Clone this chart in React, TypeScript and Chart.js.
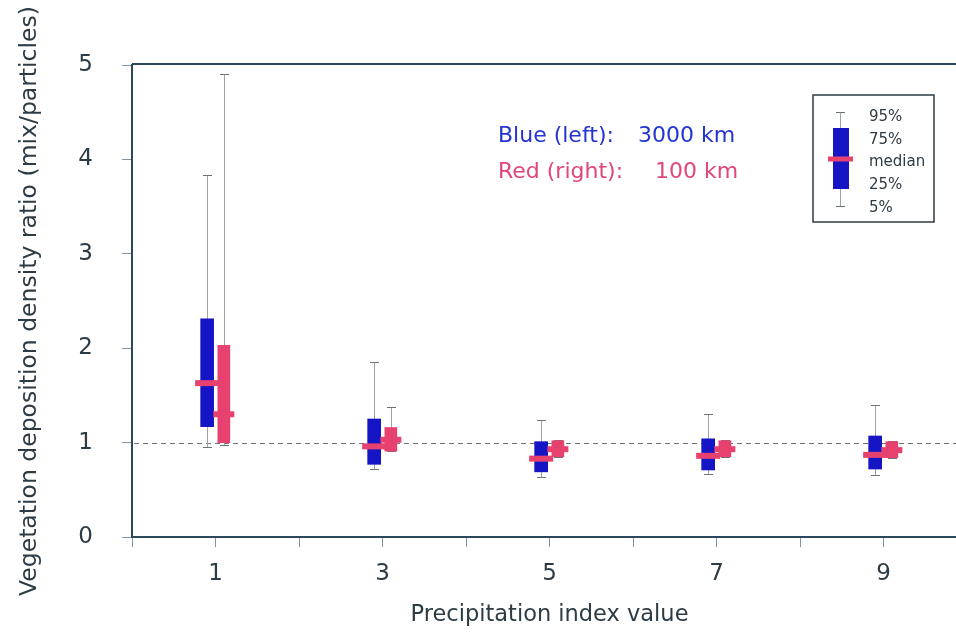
import React, { useEffect, useRef } from "react";
import { Chart, registerables } from "chart.js";

Chart.register(...registerables);

// ---- data ----
const categories = [1, 3, 5, 7, 9];

const blueP5 = [0.95, 0.72, 0.64, 0.67, 0.66];
const blueP25 = [1.17, 0.77, 0.69, 0.71, 0.72];
const blueMedian = [1.63, 0.96, 0.83, 0.86, 0.87];
const blueP75 = [2.31, 1.25, 1.01, 1.04, 1.07];
const blueP95 = [3.83, 1.85, 1.24, 1.3, 1.4];

const redP5 = [0.97, 0.91, 0.85, 0.85, 0.84];
const redP25 = [1.0, 0.91, 0.85, 0.85, 0.84];
const redMedian = [1.3, 1.03, 0.93, 0.93, 0.92];
const redP75 = [2.03, 1.16, 1.02, 1.02, 1.01];
const redP95 = [4.9, 1.38, 1.03, 1.03, 1.02];

const xTicks = [0, 1, 2, 3, 4, 5, 6, 7, 8, 9];
const xTickLabels = ["", "1", "", "3", "", "5", "", "7", "", "9"];
const yTicks = [0, 1, 2, 3, 4, 5];
const referenceValue = 1;

const legendLabels = ["95%", "75%", "median", "25%", "5%"];
const noteBlue = ["Blue (left):", "3000 km"];
const noteRed = ["Red (right):", "100 km"];

const yTitle = "Vegetation deposition density ratio (mix/particles)";
const xTitle = "Precipitation index value";

// ---- styles ----
const BLUE = "#1515c6";
const RED = "#e6416f";
const BLUE_TEXT = "#2334d2";
const RED_TEXT = "#e2457c";
const AXIS = "#2b475a";
const TEXT = "#2d3b45";
const WHISKER = "#9aa5a6";
const CAP = "#6c7475";
const FONT = "DejaVu Sans";

const series = [
  { p5: blueP5, p25: blueP25, med: blueMedian, p75: blueP75, p95: blueP95, offset: -0.1, color: BLUE, box: 13, medW: 24 },
  { p5: redP5, p25: redP25, med: redMedian, p75: redP75, p95: redP95, offset: 0.1, color: RED, box: 12, medW: 21 },
];

const extrasPlugin = {
  id: "boxExtras",
  beforeDatasetsDraw(chart: any) {
    const { ctx, chartArea, scales } = chart;
    const x = scales.x;
    const y = scales.y;
    ctx.save();
    // dashed reference line
    const yr = Math.round(y.getPixelForValue(referenceValue)) + 0.5;
    ctx.strokeStyle = "#707676";
    ctx.lineWidth = 1;
    ctx.setLineDash([5, 4]);
    ctx.beginPath();
    ctx.moveTo(chartArea.left + 2, yr);
    ctx.lineTo(chartArea.right, yr);
    ctx.stroke();
    ctx.setLineDash([]);
    // whiskers
    series.forEach((s) => {
      categories.forEach((c, i) => {
        const px = Math.round(x.getPixelForValue(c + s.offset)) + 0.5;
        const top = Math.round(y.getPixelForValue(s.p95[i])) + 0.5;
        const bot = Math.round(y.getPixelForValue(s.p5[i])) + 0.5;
        ctx.strokeStyle = WHISKER;
        ctx.lineWidth = 1;
        ctx.beginPath();
        ctx.moveTo(px, top);
        ctx.lineTo(px, bot);
        ctx.stroke();
        ctx.strokeStyle = CAP;
        ctx.beginPath();
        ctx.moveTo(px - 4.5, top);
        ctx.lineTo(px + 4.5, top);
        ctx.moveTo(px - 4.5, bot);
        ctx.lineTo(px + 4.5, bot);
        ctx.stroke();
      });
    });
    ctx.restore();
  },
  afterDatasetsDraw(chart: any) {
    const { ctx, scales } = chart;
    const x = scales.x;
    const y = scales.y;
    ctx.save();
    ctx.fillStyle = RED;
    series.forEach((s) => {
      categories.forEach((c, i) => {
        const px = x.getPixelForValue(c + s.offset);
        const py = y.getPixelForValue(s.med[i]);
        ctx.fillRect(px - s.medW / 2, py - 3, s.medW, 6);
      });
    });
    ctx.restore();
  },
  afterDraw(chart: any) {
    const { ctx, chartArea } = chart;
    ctx.save();
    // top frame line
    ctx.strokeStyle = AXIS;
    ctx.lineWidth = 2;
    ctx.beginPath();
    ctx.moveTo(chartArea.left, chartArea.top - 1);
    ctx.lineTo(chartArea.right, chartArea.top - 1);
    ctx.stroke();

    // annotations
    ctx.font = `22px "${FONT}"`;
    ctx.textBaseline = "alphabetic";
    ctx.textAlign = "left";
    ctx.fillStyle = BLUE_TEXT;
    ctx.fillText(noteBlue[0], 498, 142);
    ctx.fillText(noteBlue[1], 638, 142);
    ctx.fillStyle = RED_TEXT;
    ctx.fillText(noteRed[0], 498, 178);
    ctx.fillText(noteRed[1], 655, 178);

    // legend box
    ctx.strokeStyle = "#2e3d44";
    ctx.lineWidth = 1.5;
    ctx.strokeRect(813, 95, 121, 127);
    ctx.strokeStyle = WHISKER;
    ctx.lineWidth = 1;
    ctx.beginPath();
    ctx.moveTo(840.5, 112.5);
    ctx.lineTo(840.5, 206.5);
    ctx.stroke();
    ctx.strokeStyle = CAP;
    ctx.beginPath();
    ctx.moveTo(836, 112.5);
    ctx.lineTo(845, 112.5);
    ctx.moveTo(836, 206.5);
    ctx.lineTo(845, 206.5);
    ctx.stroke();
    ctx.fillStyle = BLUE;
    ctx.fillRect(833, 128, 16, 61);
    ctx.fillStyle = RED;
    ctx.fillRect(828, 156.5, 25, 5);
    ctx.fillStyle = TEXT;
    ctx.font = `15px "${FONT}"`;
    ctx.textBaseline = "middle";
    const ys = [117, 140.5, 162, 185.5, 208];
    legendLabels.forEach((t, i) => ctx.fillText(t, 869, ys[i]));
    ctx.restore();
  },
};

export default function App() {
  const ref = useRef<HTMLCanvasElement | null>(null);

  useEffect(() => {
    if (!ref.current) return;
    const datasets = series.map((s, k) => ({
      label: k === 0 ? "3000 km" : "100 km",
      data: categories.map((c, i) => ({ x: c + s.offset, y: [s.p25[i], s.p75[i]] })),
      backgroundColor: s.color,
      borderWidth: 0,
      barThickness: s.box,
      maxBarThickness: s.box,
      grouped: false,
    }));
    const chart = new Chart(ref.current, {
      type: "bar",
      data: { datasets } as any,
      plugins: [extrasPlugin],
      options: {
        responsive: false,
        animation: false,
        events: [],
        layout: { padding: { top: 65, left: 0, right: 0, bottom: 0 } },
        plugins: { legend: { display: false }, tooltip: { enabled: false } },
        scales: {
          x: {
            type: "linear",
            min: 0,
            max: 10,
            offset: false,
            afterFit: (s: any) => {
              s.height = 100;
            },
            afterBuildTicks: (s: any) => {
              s.ticks = xTicks.map((v) => ({ value: v }));
            },
            grid: { offset: false, drawOnChartArea: false, drawTicks: true, tickLength: 10, tickColor: "#7f95a3", tickWidth: 1 },
            border: { display: true, color: AXIS, width: 2 },
            ticks: {
              color: TEXT,
              font: { family: FONT, size: 23 },
              padding: 13,
              maxRotation: 0,
              autoSkip: false,
              callback: (v: any) => xTickLabels[xTicks.indexOf(Number(v))] ?? "",
            },
            title: { display: true, text: xTitle, color: TEXT, font: { family: FONT, size: 22.5 }, padding: { top: 0, bottom: 8 } },
          },
          y: {
            type: "linear",
            min: 0,
            max: 5,
            afterFit: (s: any) => {
              s.width = 132;
            },
            afterBuildTicks: (s: any) => {
              s.ticks = yTicks.map((v) => ({ value: v }));
            },
            grid: { drawOnChartArea: false, drawTicks: true, tickLength: 10, tickColor: "#7f95a3", tickWidth: 1 },
            border: { display: true, color: AXIS, width: 2 },
            ticks: { color: TEXT, font: { family: FONT, size: 23 }, padding: 29 },
            title: { display: true, text: yTitle, color: TEXT, font: { family: FONT, size: 23.5 }, padding: { top: 16, bottom: 0 } },
          },
        },
      } as any,
    });
    return () => chart.destroy();
  }, []);

  return (
    <div style={{ position: "fixed", left: 0, top: 0, width: 956, height: 637, overflow: "hidden", background: "#fff" }}>
      <canvas ref={ref} width={967} height={637} style={{ display: "block", width: 967, height: 637 }} />
    </div>
  );
}
